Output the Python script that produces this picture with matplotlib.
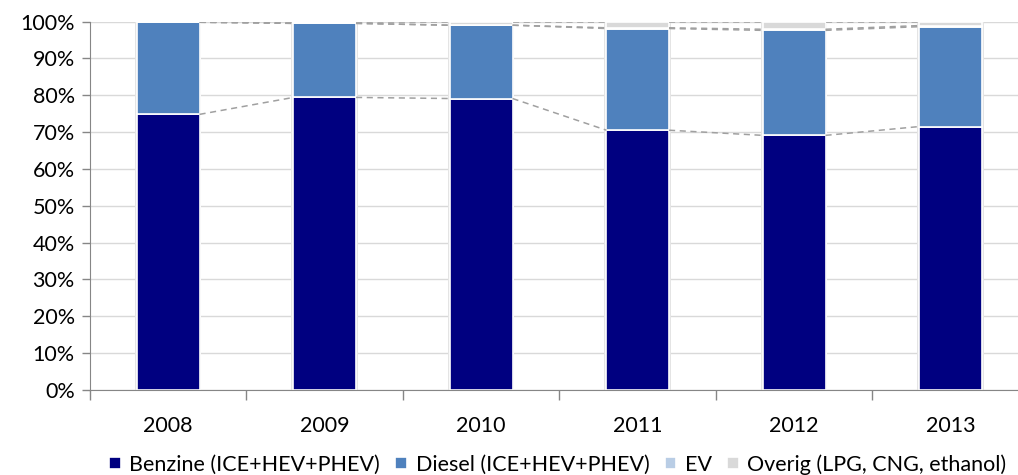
import matplotlib.pyplot as plt
import numpy as np
from matplotlib.ticker import FuncFormatter

years = ['2008', '2009', '2010', '2011', '2012', '2013']
benzine = [74.8, 79.4, 79.1, 70.5, 69.1, 71.5]
diesel = [25.0, 20.1, 19.9, 27.6, 28.5, 27.1]
ev = [0.0, 0.0, 0.0, 0.2, 0.3, 0.3]
overig = [0.2, 0.5, 1.0, 1.7, 2.1, 1.1]

labels = ['Benzine (ICE+HEV+PHEV)', 'Diesel (ICE+HEV+PHEV)', 'EV',
          'Overig (LPG, CNG, ethanol)']
colors = ['#000080', '#4F81BD', '#B9CDE5', '#D9D9D9']

plt.rcParams['font.family'] = ['Lato', 'DejaVu Sans']
FS = 15.5

fig = plt.figure(figsize=(10.18, 4.75), dpi=100)
ax = fig.add_axes([0.0884, 0.179, 0.9224, 0.7757])

x = np.arange(len(years))
width = 0.4
series = [benzine, diesel, ev, overig]

# soft shadow behind the stacks
totals = np.sum(series, axis=0)
ax.bar(x, totals, width=width + 0.025, color='#E4E4E4', zorder=1)

bottom = np.zeros(len(years))
tops = []
for vals, lab, col in zip(series, labels, colors):
    ax.bar(x, vals, width=width, bottom=bottom, color=col, label=lab,
           edgecolor='white', linewidth=1.2, zorder=2)
    bottom = bottom + np.array(vals)
    tops.append(bottom.copy())

# series lines between bars
for top in tops:
    for i in range(len(years) - 1):
        ax.plot([x[i] + width / 2, x[i + 1] - width / 2], [top[i], top[i + 1]],
                ls=(0, (4, 3)), color='#A0A0A0', lw=1.1, zorder=3)

ax.set_xlim(-0.5, len(years) - 0.5)
ax.set_ylim(0, 100)
ax.set_yticks(np.arange(0, 101, 10))
ax.yaxis.set_major_formatter(FuncFormatter(lambda v, p: f'{int(v)}%'))
ax.set_xticks(x)
ax.set_xticklabels(years)
ax.set_xticks(np.arange(-0.5, len(years), 1), minor=True)
ax.tick_params(axis='x', which='major', length=0, pad=19, labelsize=FS)
ax.tick_params(axis='x', which='minor', length=7, color='#868686', width=1)
ax.tick_params(axis='y', length=6, color='#868686', width=1, labelsize=FS,
               pad=5)
ax.yaxis.grid(True, color='#D9D9D9', lw=1)
ax.set_axisbelow(True)
for s in ['top', 'right']:
    ax.spines[s].set_visible(False)
for s in ['left', 'bottom']:
    ax.spines[s].set_color('#868686')

fig.legend(loc='lower left', bbox_to_anchor=(0.088, -0.04), ncol=4,
           frameon=False, fontsize=FS, handlelength=0.55, handleheight=0.55,
           handletextpad=0.4, columnspacing=0.7)

fig.savefig('out.png', dpi=100)
